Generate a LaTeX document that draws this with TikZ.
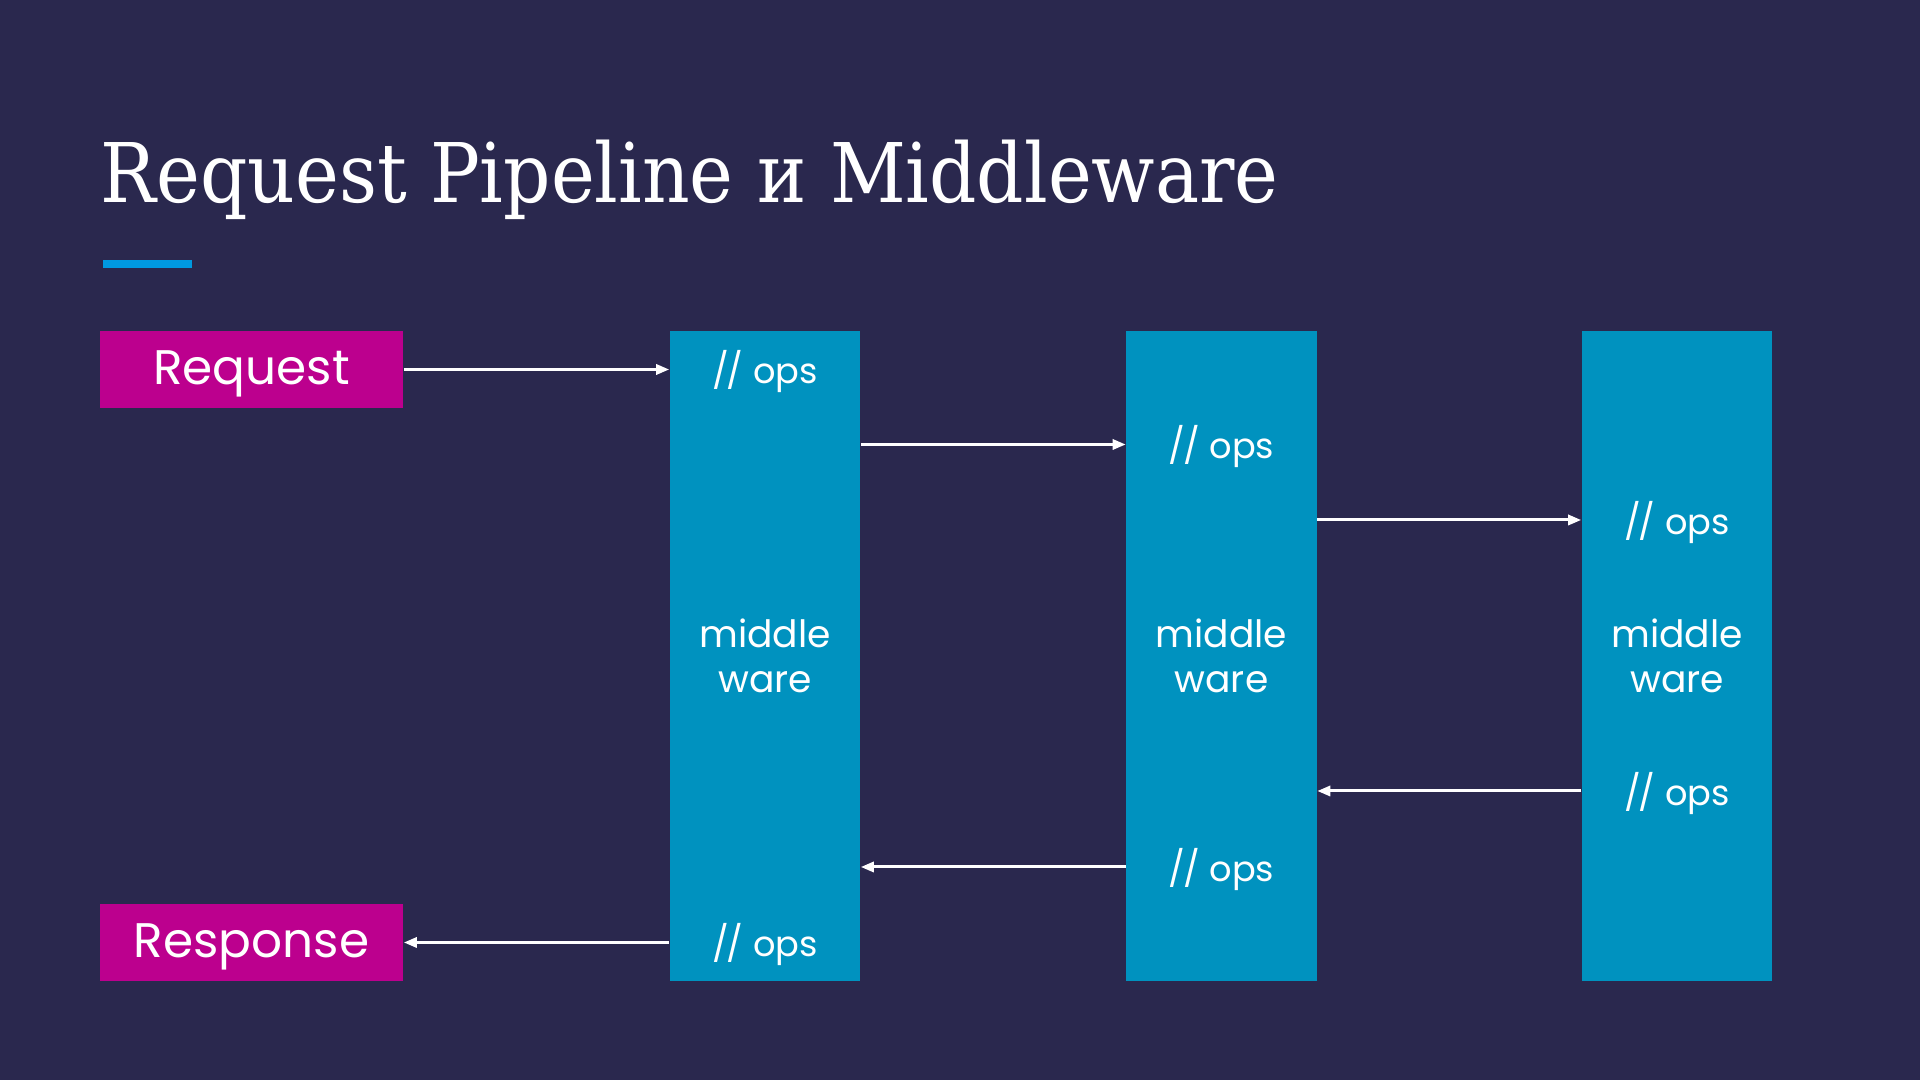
\documentclass[tikz,border=0pt]{standalone}
\usepackage{fontspec}
\setmainfont{Poppins}
\newfontfamily\titlefont{DejaVu Serif Condensed}
\usepackage{tikz}
\usetikzlibrary{arrows.meta,positioning,calc}
\definecolor{PLBack}{HTML}{2A284E}
\definecolor{PLMagenta}{HTML}{BC008E}
\definecolor{PLTeal}{HTML}{0092BF}
\definecolor{PLAccent}{HTML}{0099E0}
\tikzset{
  flow/.style={-{Triangle[length=1.3mm,width=1.0mm]},white,line width=0.85pt},
  endpoint/.style={fill=PLMagenta,text=white,inner sep=0pt,
                   minimum width=3.03cm,minimum height=0.77cm,
                   text height=1.11em,text depth=0.25em,
                   font=\fontsize{13.8}{17}\selectfont},
  column/.style={fill=PLTeal,text=white,inner sep=0pt,align=center,
                 minimum width=1.90cm,minimum height=6.50cm,
                 font=\fontsize{10.7}{12.6}\selectfont},
  ops/.style={text=white,inner sep=0pt,text height=1.0em,text depth=0.2em,
              font=\fontsize{10}{12}\selectfont},
  heading/.style={text=white,inner sep=0pt,font=\titlefont\fontsize{23.4}{28}\selectfont},
  accent/.style={fill=PLAccent,inner sep=0pt,minimum width=0.89cm,minimum height=0.08cm},
}
\newcommand{\opstext}{/\kern-0.06em/ ops}

\begin{document}
\begin{tikzpicture}[x=0.01cm,y=-0.01cm]
    % request goes in through the middleware columns and the response comes back out
    \fill[PLBack] (0,0) rectangle (1920,1080);
    \useasboundingbox (0,0) rectangle (1920,1080);

    \node[heading,anchor=base west] (title) at (100,203) {Request Pipeline и Middleware};
    \node[accent] (rule) at (147.5,264) {};

    \node[endpoint] (request) at (251.5,369.5) {Request};
    \node[endpoint] (response) at (251.5,942.5) {Response};

    \node[column] (mw1) at (765,656) {middle\\ware};
    \node[column] (mw2) at (1221.5,656) {middle\\ware};
    \node[column] (mw3) at (1677,656) {middle\\ware};

    \node[ops] (in1) at (765,369.5) {\opstext};
    \node[ops] (in2) at (1221.5,444.5) {\opstext};
    \node[ops] (in3) at (1677,520) {\opstext};
    \node[ops] (out3) at (1677,791) {\opstext};
    \node[ops] (out2) at (1221.5,867) {\opstext};
    \node[ops] (out1) at (765,942.5) {\opstext};

    \draw[flow] (request.east) -- (request.east -| mw1.west);
    \draw[flow] (in2 -| mw1.east) -- (in2 -| mw2.west);
    \draw[flow] (in3 -| mw2.east) -- (in3 -| mw3.west);
    \draw[flow] (out3 -| mw3.west) -- (out3 -| mw2.east);
    \draw[flow] (out2 -| mw2.west) -- (out2 -| mw1.east);
    \draw[flow] (out1 -| mw1.west) -- (response.east);
  \end{tikzpicture}
\end{document}
